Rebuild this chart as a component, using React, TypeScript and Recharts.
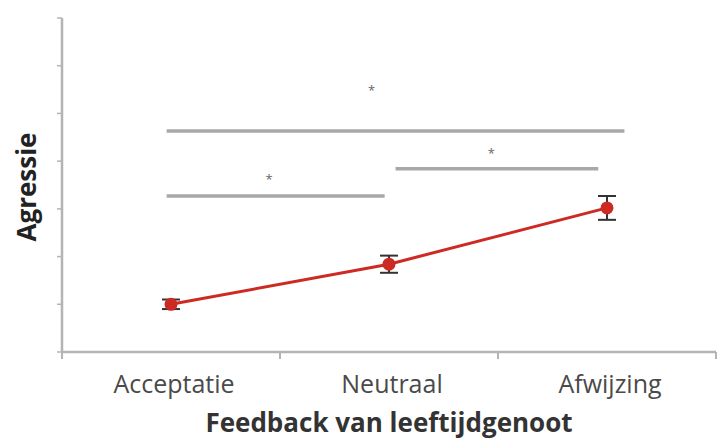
import { ComposedChart, Line, XAxis, YAxis, ErrorBar, ReferenceLine, ReferenceDot, Label } from 'recharts'

// feedback conditions and mean aggression
const categories = ['Acceptatie', 'Neutraal', 'Afwijzing']
const positions = [0.5, 1.5, 2.5]
const means = [1.0, 1.84, 3.02]
const errors = [0.1, 0.18, 0.25]

// significance brackets (x from / to, height) and their stars
const sigFrom = [0.48, 0.48, 1.53]
const sigTo = [2.58, 1.48, 2.46]
const sigLevel = [4.63, 3.27, 3.84]
const starX = [1.42, 0.95, 1.97]
const starLevel = [5.49, 3.61, 4.17]

const yTicks = [0, 1, 2, 3, 4, 5, 6, 7]
const xTicks = [0, 0.5, 1, 1.5, 2, 2.5, 3]

const FONT = '"Open Sans", "Noto Sans", sans-serif'
const AXIS = '#b4b4b4'

const data = positions.map((x, i) => ({ x, mean: means[i], err: errors[i] }))

function XTick(props: any) {
  const { x, y, payload } = props
  const v = payload.value
  if (Number.isInteger(v)) {
    return <line x1={x} x2={x} y1={y - 8} y2={y - 1} stroke={AXIS} strokeWidth={2} />
  }
  const label = categories[Math.floor(v)]
  return (
    <text x={x + 3} y={y + 33} textAnchor="middle" fontSize={25} fill="#4a4a4a" fontFamily={FONT}>
      {label}
    </text>
  )
}

export default function App() {
  return (
    <div style={{ position: 'absolute', left: 0, top: 0, background: '#fff' }}>
      <ComposedChart width={722} height={440} data={data} margin={{ top: 18, right: 6, bottom: 0, left: 0 }}>
        <XAxis
          dataKey="x"
          type="number"
          domain={[0, 3]}
          ticks={xTicks}
          interval={0}
          tick={<XTick />}
          tickLine={false}
          height={88}
          axisLine={{ stroke: AXIS, strokeWidth: 2.5 }}
        >
          <Label
            value="Feedback van leeftijdgenoot"
            position="center"
            dy={27}
            style={{ fontFamily: FONT, fontSize: 26, fontWeight: 700, fill: '#333' }}
          />
        </XAxis>
        <YAxis
          type="number"
          domain={[0, 7]}
          ticks={yTicks}
          width={62}
          tickFormatter={() => ''}
          tickSize={5}
          tickLine={{ stroke: AXIS, strokeWidth: 1.5 }}
          axisLine={{ stroke: AXIS, strokeWidth: 2.5 }}
        >
          <Label
            value="Agressie"
            angle={-90}
            position="center"
            dx={-4}
            dy={2}
            style={{ fontFamily: FONT, fontSize: 26, fontWeight: 700, fill: '#222' }}
          />
        </YAxis>
        {sigLevel.map((lvl, i) => (
          <ReferenceLine
            key={'s' + i}
            segment={[{ x: sigFrom[i], y: lvl }, { x: sigTo[i], y: lvl }]}
            stroke="#a8a8a8"
            strokeWidth={3.5}
          />
        ))}
        {starLevel.map((lvl, i) => (
          <ReferenceDot
            key={'d' + i}
            x={starX[i]}
            y={lvl}
            r={0}
            fill="none"
            stroke="none"
            label={{ value: '*', position: 'center', fill: '#666', fontSize: 13, fontFamily: FONT }}
          />
        ))}
        <Line
          dataKey="mean"
          type="linear"
          stroke="#cc2a22"
          strokeWidth={3}
          dot={{ r: 5, fill: '#cc2a22', stroke: '#cc2a22' }}
          isAnimationActive={false}
        >
          <ErrorBar dataKey="err" direction="y" width={9} stroke="#333" strokeWidth={2} />
        </Line>
      </ComposedChart>
    </div>
  )
}
